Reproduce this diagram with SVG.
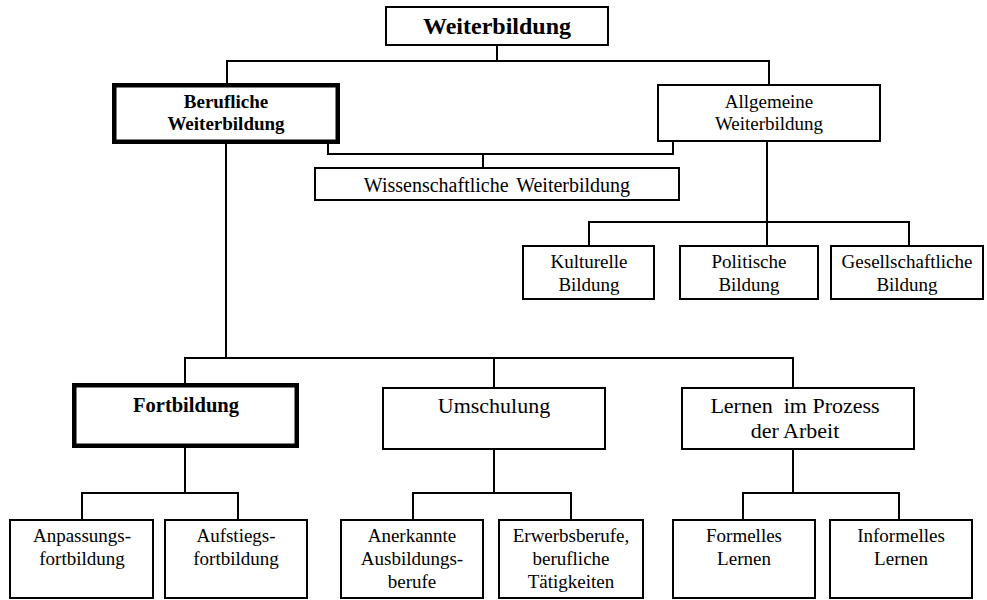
<svg xmlns="http://www.w3.org/2000/svg" width="987" height="600" viewBox="0 0 987 600">
  <style>
    .box { fill: #ffffff; stroke: #000000; stroke-width: 2; }
    .box.strong { stroke-width: 4.5; }
    .wire { fill: none; stroke: #000000; stroke-width: 2; stroke-linecap: square; }
    .lbl text { fill: #000000; text-anchor: middle; }
    .t { font-size: 19px; }
    .tm { font-size: 22px; }
    .tb { font-size: 19px; font-weight: bold; }
  </style>
  <rect width="987" height="600" fill="#ffffff"/>

  <!-- connectors -->
  <g id="connectors">
    <path class="wire" d="M497,46 V61 M227,61 H769 M227,61 V83 M769,61 V84"/>
    <path class="wire" d="M328,144 V154 H673 V142 M483,154 V167"/>
    <path class="wire" d="M226,144 V358"/>
    <path class="wire" d="M767,142 V245 M589,222 H909 M589,222 V245 M909,222 V245"/>
    <path class="wire" d="M185,358 H793 M185,358 V383 M494,358 V387 M793,358 V387"/>
    <path class="wire" d="M185,448 V493 M82,493 H238 M82,493 V519 M238,493 V519"/>
    <path class="wire" d="M494,450 V493 M413,493 H571 M413,493 V519 M571,493 V519"/>
    <path class="wire" d="M793,450 V493 M743,493 H899 M743,493 V519 M899,493 V519"/>
  </g>

  <g class="lbl" font-family="'Liberation Serif', 'Times New Roman', Tinos, 'DejaVu Serif', serif">
  <!-- root -->
  <g id="weiterbildung">
    <rect class="box" x="386" y="7" width="222" height="38"/>
    <text x="497" y="34" font-size="24" font-weight="bold">Weiterbildung</text>
  </g>

  <!-- second level -->
  <g id="berufliche-weiterbildung">
    <rect class="box strong" x="114.25" y="85.25" width="223.5" height="56.5"/>
    <text class="tb" x="226" y="108">Berufliche</text>
    <text class="tb" x="226" y="130">Weiterbildung</text>
  </g>
  <g id="allgemeine-weiterbildung">
    <rect class="box" x="658" y="85" width="222" height="56"/>
    <text class="t" x="769" y="108">Allgemeine</text>
    <text class="t" x="769" y="130">Weiterbildung</text>
  </g>
  <g id="wissenschaftliche-weiterbildung">
    <rect class="box" x="315" y="168" width="364" height="32"/>
    <text x="497" y="192" font-size="20" word-spacing="3">Wissenschaftliche Weiterbildung</text>
  </g>

  <!-- general education branches -->
  <g id="kulturelle-bildung">
    <rect class="box" x="523" y="246" width="131" height="53"/>
    <text class="t" x="589" y="268">Kulturelle</text>
    <text class="t" x="589" y="291">Bildung</text>
  </g>
  <g id="politische-bildung">
    <rect class="box" x="680" y="246" width="138" height="53"/>
    <text class="t" x="749" y="268">Politische</text>
    <text class="t" x="749" y="291">Bildung</text>
  </g>
  <g id="gesellschaftliche-bildung">
    <rect class="box" x="831" y="246" width="152" height="53"/>
    <text class="t" x="907" y="268">Gesellschaftliche</text>
    <text class="t" x="907" y="291">Bildung</text>
  </g>

  <!-- vocational branches -->
  <g id="fortbildung">
    <rect class="box strong" x="74.25" y="385.25" width="222.5" height="60.5"/>
    <text x="186" y="412" font-size="20.5" font-weight="bold">Fortbildung</text>
  </g>
  <g id="umschulung">
    <rect class="box" x="383" y="388" width="222" height="61"/>
    <text class="tm" x="494" y="413">Umschulung</text>
  </g>
  <g id="lernen-im-prozess">
    <rect class="box" x="682" y="388" width="232" height="61"/>
    <text class="tm" x="795" y="413" xml:space="preserve">Lernen  im Prozess</text>
    <text class="tm" x="795" y="438">der Arbeit</text>
  </g>

  <!-- leaves -->
  <g id="anpassungsfortbildung">
    <rect class="box" x="10" y="520" width="143" height="78"/>
    <text class="t" x="82" y="542">Anpassungs-</text>
    <text class="t" x="82" y="565">fortbildung</text>
  </g>
  <g id="aufstiegsfortbildung">
    <rect class="box" x="165" y="520" width="142" height="78"/>
    <text class="t" x="236" y="542">Aufstiegs-</text>
    <text class="t" x="236" y="565">fortbildung</text>
  </g>
  <g id="anerkannte-ausbildungsberufe">
    <rect class="box" x="341" y="520" width="142" height="78"/>
    <text class="t" x="412" y="542">Anerkannte</text>
    <text class="t" x="412" y="565">Ausbildungs-</text>
    <text class="t" x="412" y="588">berufe</text>
  </g>
  <g id="erwerbsberufe">
    <rect class="box" x="499" y="520" width="144" height="78"/>
    <text class="t" x="571" y="542">Erwerbsberufe,</text>
    <text class="t" x="571" y="565">berufliche</text>
    <text class="t" x="571" y="588">Tätigkeiten</text>
  </g>
  <g id="formelles-lernen">
    <rect class="box" x="673" y="520" width="142" height="78"/>
    <text class="t" x="744" y="542">Formelles</text>
    <text class="t" x="744" y="565">Lernen</text>
  </g>
  <g id="informelles-lernen">
    <rect class="box" x="830" y="520" width="142" height="78"/>
    <text class="t" x="901" y="542">Informelles</text>
    <text class="t" x="901" y="565">Lernen</text>
  </g>
  </g>
</svg>
